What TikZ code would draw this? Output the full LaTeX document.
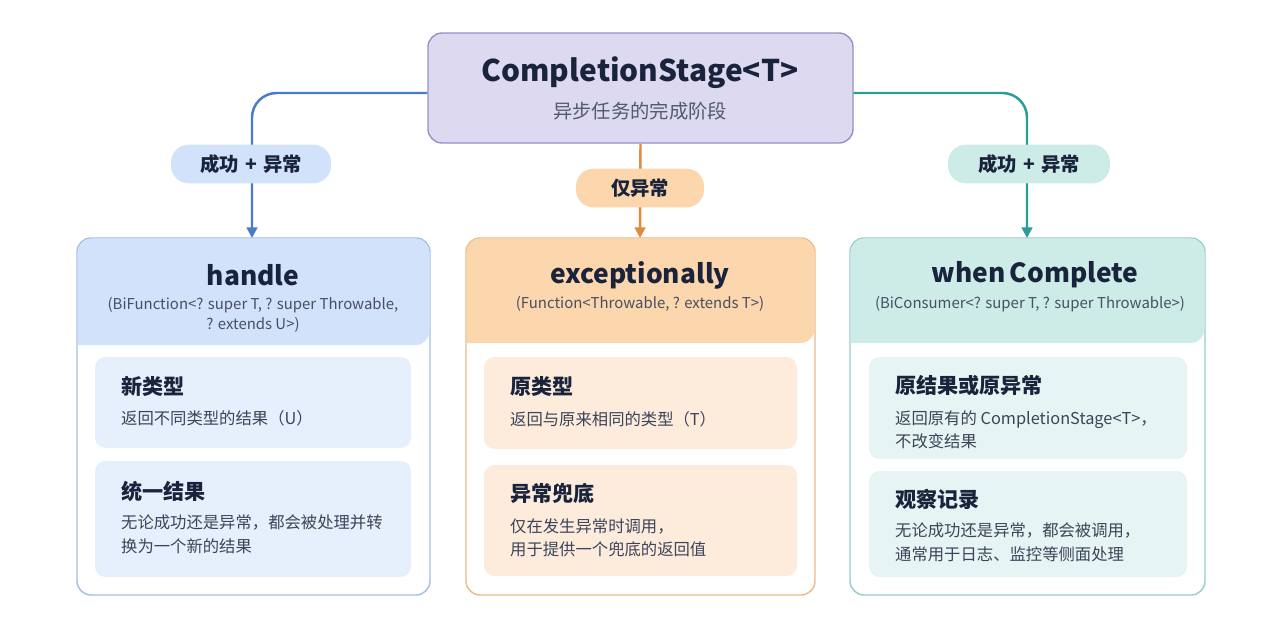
\documentclass[tikz,border=0pt]{standalone}
\usepackage{fontspec}
\setmainfont{Noto Sans CJK SC}
\usetikzlibrary{positioning, calc, arrows.meta}
\definecolor{lav}{RGB}{220,217,240}
\definecolor{lavline}{RGB}{150,145,200}
\definecolor{myblue}{RGB}{74,123,200}
\definecolor{bluehead}{RGB}{210,226,250}
\definecolor{bluecard}{RGB}{230,239,252}
\definecolor{myorange}{RGB}{224,138,60}
\definecolor{orangehead}{RGB}{252,214,172}
\definecolor{orangecard}{RGB}{253,236,220}
\definecolor{myteal}{RGB}{42,157,154}
\definecolor{tealhead}{RGB}{205,236,232}
\definecolor{tealcard}{RGB}{230,245,243}
\definecolor{ink}{RGB}{25,35,60}
\tikzset{
	panel/.style={draw=#1, rounded corners=8pt, line width=0.8pt, fill=white},
	card/.style={fill=#1, rounded corners=6pt},
	pill/.style={fill=#1, rounded corners=10pt, minimum height=22pt, font=\fontsize{11}{13}\selectfont\bfseries, text=ink},
	edge/.style={-{Triangle[length=6pt,width=6pt]}, line width=1.4pt, rounded corners=14pt},
	head/.style={font=\fontsize{15}{18}\selectfont\bfseries, text=ink},
	sig/.style={font=\fontsize{8.5}{11}\selectfont, text=ink!80, align=center},
	ctitle/.style={font=\fontsize{12}{14}\selectfont\bfseries, text=ink, anchor=west},
	cbody/.style={font=\fontsize{9.3}{13.5}\selectfont, text=ink!85, anchor=north west, align=left}
}
\begin{document}
\begin{tikzpicture}[x=0.02cm, y=-0.02cm]
	\useasboundingbox (0,0) rectangle (1280,640);
	% top
	\node(top) at (640.5,88) [draw=lavline, fill=lav, rounded corners=8pt, line width=0.8pt, minimum width=425*0.02cm, minimum height=110*0.02cm] {};
	\node(toptitle) at (640,73) [font=\fontsize{17}{20}\selectfont\bfseries, text=ink] {CompletionStage<T>};
	\node(topsub) at (640,111) [font=\fontsize{11}{13}\selectfont, text=ink!75] {异步任务的完成阶段};
	% panels
	\draw[panel=myblue!50] (77,238) rectangle (430,595);
	\fill[card=bluehead] (77.5,238.5) [rounded corners=8pt] -- (429.5,238.5) -- (429.5,345) [sharp corners] -- (77.5,345) [rounded corners=8pt] -- cycle;
	\draw[panel=myorange!60] (466,238) rectangle (815,595);
	\fill[card=orangehead] (466.5,238.5) [rounded corners=8pt] -- (814.5,238.5) -- (814.5,343) [sharp corners] -- (466.5,343) [rounded corners=8pt] -- cycle;
	\draw[panel=myteal!50] (850,238) rectangle (1205,595);
	\fill[card=tealhead] (850.5,238.5) [rounded corners=8pt] -- (1204.5,238.5) -- (1204.5,343) [sharp corners] -- (850.5,343) [rounded corners=8pt] -- cycle;
	\coordinate(lin) at (252,238);
	\coordinate(min) at (640,238);
	\coordinate(rin) at (1027,238);
	% headers
	\node(hhandle) at (253,275) [head] {handle};
	\node(shandle) at (253,315) [sig] {(BiFunction<? super T, ? super Throwable,\\? extends U>)};
	\node(hexc) at (640,275) [head] {exceptionally};
	\node(sexc) at (640,304) [sig] {(Function<Throwable, ? extends T>)};
	\node(hwhen) at (1035,275) [head] {when\,Complete};
	\node(swhen) at (1030,304) [sig] {(BiConsumer<? super T, ? super Throwable>)};
	% cards
	\fill[card=bluecard] (95,357) rectangle (411,448);
	\fill[card=bluecard] (95,461) rectangle (411,577);
	\fill[card=orangecard] (484,357) rectangle (797,449);
	\fill[card=orangecard] (484,465) rectangle (797,576);
	\fill[card=tealcard] (869,357) rectangle (1187,459);
	\fill[card=tealcard] (869,471) rectangle (1187,577);
	\node(c1) at (115,386) [ctitle] {新类型};
	\node(b1) at (115,404) [cbody] {返回不同类型的结果（U）};
	\node(c2) at (115,491) [ctitle] {统一结果};
	\node(b2) at (115,509) [cbody] {无论成功还是异常，都会被处理并转\\换为一个新的结果};
	\node(c3) at (504,386) [ctitle] {原类型};
	\node(b3) at (504,405) [cbody] {返回与原来相同的类型（T）};
	\node(c4) at (504,493) [ctitle] {异常兜底};
	\node(b4) at (504,512) [cbody] {仅在发生异常时调用，\\用于提供一个兜底的返回值};
	\node(c5) at (889,386) [ctitle] {原结果或原异常};
	\node(b5) at (889,404) [cbody] {返回原有的 CompletionStage<T>，\\不改变结果};
	\node(c6) at (889,499) [ctitle] {观察记录};
	\node(b6) at (889,517) [cbody] {无论成功还是异常，都会被调用，\\通常用于日志、监控等侧面处理};
	% connectors
	\draw[edge, myblue] (top.west |- 0,93) -| (lin);
	\draw[edge, myorange] (top.south) -- (min);
	\draw[edge, myteal] (top.east |- 0,93) -| (rin);
	\node(pl) at (251,164) [pill=bluehead, minimum width=160*0.02cm] {成功\,\,+\,\,异常};
	\node(pm) at (640,188) [pill=orangehead, minimum width=128*0.02cm] {仅异常};
	\node(pr) at (1029,164) [pill=tealhead, minimum width=162*0.02cm] {成功\,\,+\,\,异常};
\end{tikzpicture}
\end{document}
